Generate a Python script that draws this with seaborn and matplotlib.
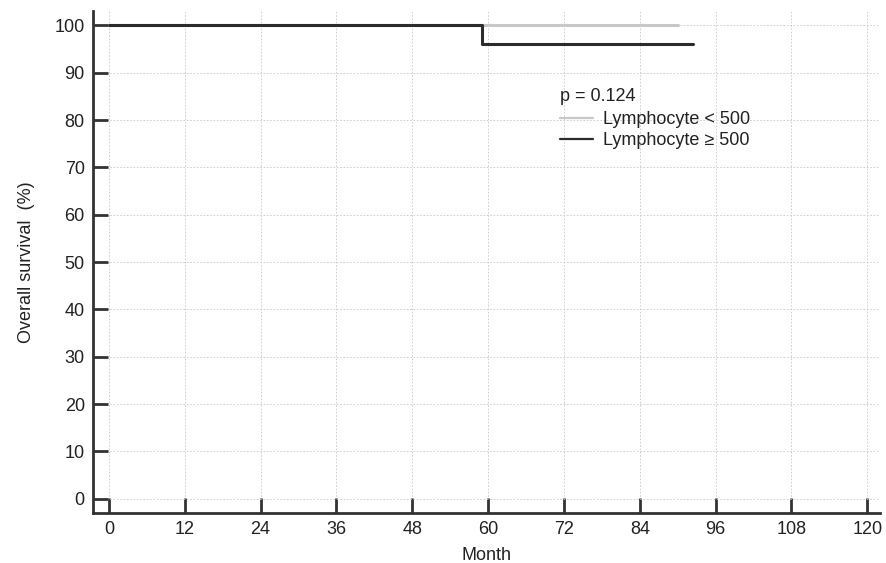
import matplotlib
matplotlib.use("Agg")
import matplotlib.pyplot as plt
import seaborn as sns
import pandas as pd

# Data (Kaplan-Meier step curves)
months_low = [0, 90]
surv_low = [100, 100]
months_high = [0, 59, 92.5]
surv_high = [100, 96, 96]
group_names = ["Lymphocyte < 500", "Lymphocyte \u2265 500"]
x_ticks = [0, 12, 24, 36, 48, 60, 72, 84, 96, 108, 120]
y_ticks = [0, 10, 20, 30, 40, 50, 60, 70, 80, 90, 100]
p_text = "p = 0.124"

df = pd.concat([
    pd.DataFrame({"Month": months_low, "Survival": surv_low, "Group": group_names[0]}),
    pd.DataFrame({"Month": months_high, "Survival": surv_high, "Group": group_names[1]}),
])

sns.set_theme(style="white")
plt.rcParams['font.family'] = ['Liberation Sans', 'DejaVu Sans']

fig = plt.figure(figsize=(8.87, 5.63), dpi=100)
ax = fig.add_axes([0.105, 0.089, 0.887, 0.891])

sns.lineplot(data=df, x="Month", y="Survival", hue="Group",
             palette={group_names[0]: "#c8c8c8", group_names[1]: "#2b2b2b"},
             drawstyle="steps-post", linewidth=2.2, ax=ax, estimator=None)

ax.set_xlim(-2.5, 122)
ax.set_ylim(-3, 103)
ax.set_xticks(x_ticks)
ax.set_yticks(y_ticks)
ax.grid(True, linestyle=(0, (2, 2)), linewidth=0.6, color="#c8c8c8")
ax.set_axisbelow(True)
for s in ["top", "right"]:
    ax.spines[s].set_visible(False)
for s in ["left", "bottom"]:
    ax.spines[s].set_color("#333333")
    ax.spines[s].set_linewidth(2)
ax.tick_params(axis="both", direction="in", length=11, width=2, color="#333333",
               labelsize=13, labelcolor="#222222", bottom=True, left=True)
ax.tick_params(axis="x", pad=6)
ax.tick_params(axis="y", pad=6)
ax.set_xlabel("Month", fontsize=13, color="#222222", labelpad=6)
ax.set_ylabel("Overall survival  (%)", fontsize=13, color="#222222", labelpad=14)

leg = ax.legend(title=p_text, loc="upper left", bbox_to_anchor=(0.582, 0.866),
                frameon=False, fontsize=13, title_fontsize=13, alignment="left",
                handlelength=1.8, handletextpad=0.6, labelspacing=0.22, borderpad=0)
leg._legend_box.sep = 5
leg.get_title().set_color("#222222")
for t in leg.get_texts():
    t.set_color("#222222")
for h in leg.get_lines():
    h.set_linewidth(1.6)

fig.savefig("out.png", dpi=100)
